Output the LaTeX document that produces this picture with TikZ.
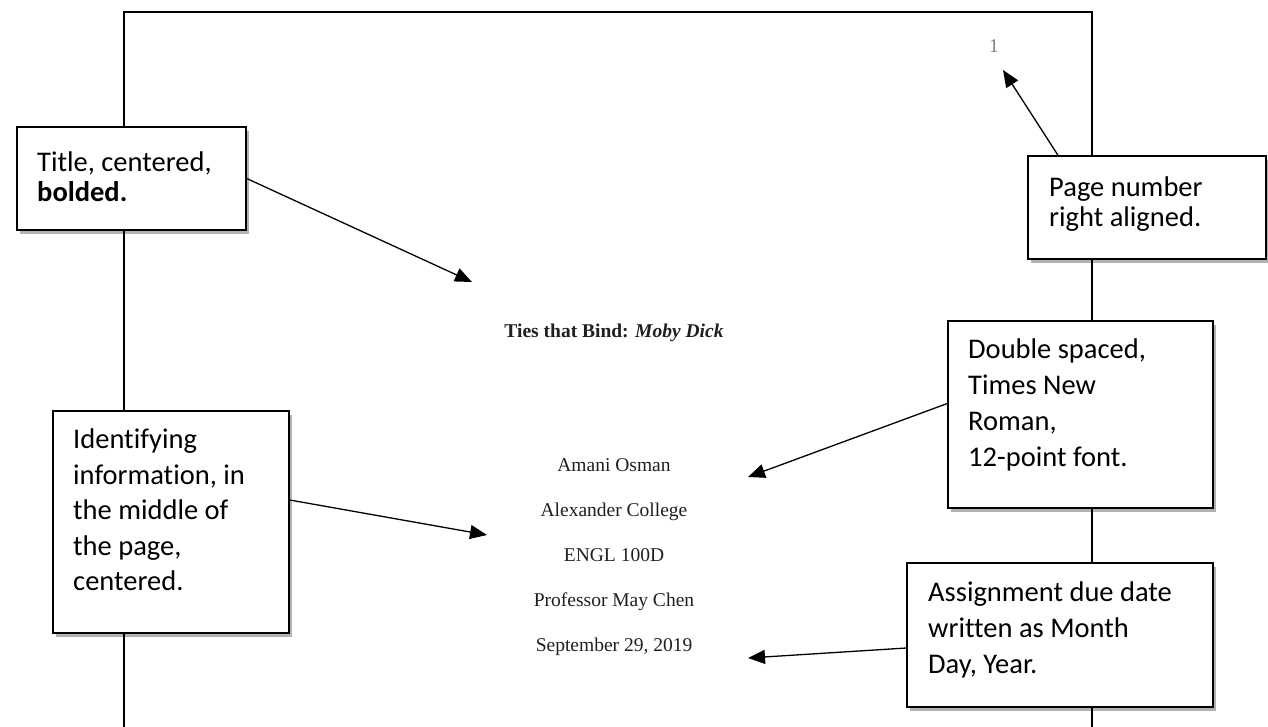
\documentclass[tikz,border=0pt]{standalone}
\usepackage{fontspec}
\setmainfont{Carlito}[Ligatures=NoCommon]
\newfontfamily\timesf{Liberation Serif}
\usetikzlibrary{arrows.meta,shadows}
\begin{document}
\begin{tikzpicture}[x=1pt,y=-1pt,
  callout/.style={draw=black, line width=1.4pt, fill=white, inner sep=0pt,
    drop shadow={shadow xshift=3pt, shadow yshift=-4pt, opacity=0.3, fill=black}},
  ctext/.style={anchor=north west, inner sep=0pt, align=left, text=black},
  ptext/.style={anchor=base, inner sep=0pt, text=black!88, font=\timesf\fontsize{19.5}{24}\selectfont},
  pointer/.style={-{Triangle[length=17pt,width=14pt]}, line width=1.3pt},
  pageline/.style={line width=2pt}]
\useasboundingbox (0,0) rectangle (1268,727);
% the page
\draw[pageline] (124,745) -- (124,12) -- (1092,12) -- (1092,745);
% page text
\node[ptext] (pnum) at (994,53) {\textcolor{black!50}{1}};
\node[ptext, font=\timesf\bfseries\fontsize{19.5}{24}\selectfont] (ptitle) at (614,337) {Ties that Bind: \textit{Moby Dick}};
\node[ptext] (pname) at (614,471) {Amani Osman};
\node[ptext] (pcoll) at (614,516) {Alexander College};
\node[ptext] (pcourse) at (614,561) {ENGL 100D};
\node[ptext] (pprof) at (614,606) {Professor May Chen};
\node[ptext] (pdate) at (614,651) {September 29, 2019};
% callout boxes
\node[callout, minimum width=229pt, minimum height=103pt] (tbox) at (131.5,178.5) {};
\node[callout, minimum width=238pt, minimum height=103pt] (nbox) at (1147,207.5) {};
\node[callout, minimum width=265pt, minimum height=187pt] (dbox) at (1080.5,414.5) {};
\node[callout, minimum width=236pt, minimum height=222pt] (ibox) at (171,522) {};
\node[callout, minimum width=306pt, minimum height=144pt] (abox) at (1060,635) {};
% callout texts
\node[ctext, font=\fontsize{28.5}{30}\selectfont] (ttext) at (37,152) {Title, centered,\\\textbf{bolded.}};
\node[ctext, font=\fontsize{28.5}{30}\selectfont] (ntext) at (1049,177) {Page number\\right aligned.};
\node[ctext, font=\fontsize{28.5}{36}\selectfont] (dtext) at (968,339) {Double spaced,\\Times New\\Roman,\\12-point font.};
\node[ctext, font=\fontsize{28.5}{35.5}\selectfont] (itext) at (73,429) {Identifying\\information, in\\the middle of\\the page,\\centered.};
\node[ctext, font=\fontsize{28.5}{36}\selectfont] (atext) at (928,582) {Assignment due date\\written as Month\\Day, Year.};
% arrow tips
\coordinate (ttip) at (472,282);
\coordinate (ntip) at (1003,70);
\coordinate (dtip) at (748,477);
\coordinate (itip) at (487,535);
\coordinate (atip) at (748,658);
% connectors
\draw[pointer] (tbox.east) -- (ttip);
\draw[pointer] ([xshift=-89pt]nbox.north) -- (ntip);
\draw[pointer] ([yshift=11pt]dbox.west) -- (dtip);
\draw[pointer] ([yshift=22pt]ibox.east) -- (itip);
\draw[pointer] ([yshift=-13pt]abox.west) -- (atip);
\end{tikzpicture}
\end{document}
